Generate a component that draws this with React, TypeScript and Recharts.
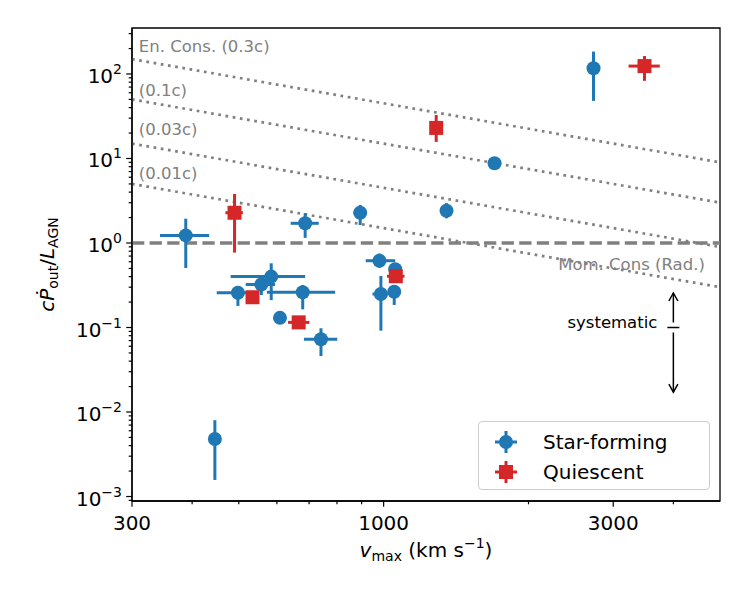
import React from 'react';
import {
  ScatterChart,
  Scatter,
  XAxis,
  YAxis,
  ErrorBar,
  ReferenceLine,
  ReferenceArea,
  ReferenceDot,
  Legend,
} from 'recharts';

const FONT = 'DejaVu Sans';
const BLUE = '#1f77b4';
const RED = '#d62728';
const GREY = '#808080';
const C_KMS = 3e5;

const X_MIN = 300;
const X_MAX = 5000;
const Y_MIN = 8.85e-4;
const Y_MAX = 350;

// star-forming hosts: v_max (km/s), c*Pdot/L_AGN and error-bar ends
const sfV = [388, 446, 498, 557, 584, 609, 679, 687, 741, 894, 980, 987, 1052, 1057, 1351, 1700, 2730];
const sfR = [1.23, 0.0048, 0.258, 0.323, 0.4, 0.13, 0.261, 1.71, 0.0725, 2.28, 0.617, 0.249, 0.265, 0.489, 2.41, 8.77, 117];
const sfVLo = [343, 446, 450, 517, 481, 609, 572, 641, 683, 866, 918, 948, 1052, 1057, 1312, 1650, 2730];
const sfVHi = [434, 446, 538, 595, 687, 609, 793, 733, 801, 923, 1057, 1020, 1052, 1057, 1391, 1750, 2730];
const sfRLo = [0.506, 0.00157, 0.18, 0.242, 0.211, 0.13, 0.164, 1.15, 0.046, 1.63, 0.51, 0.0917, 0.185, 0.45, 1.96, 8.3, 48];
const sfRHi = [1.94, 0.008, 0.31, 0.4, 0.575, 0.13, 0.318, 2.26, 0.098, 2.82, 0.75, 0.407, 0.3, 0.53, 2.96, 9.3, 184];

// quiescent hosts
const qV = [490, 534, 666, 1060, 1286, 3484];
const qR = [2.28, 0.228, 0.115, 0.404, 23, 124];
const qVLo = [469, 534, 633, 1016, 1250, 3228];
const qVHi = [510, 534, 701, 1105, 1320, 3748];
const qRLo = [0.77, 0.228, 0.108, 0.37, 15.7, 83];
const qRHi = [3.8, 0.228, 0.122, 0.44, 32.7, 163];

// energy-conserving tracks, c*Pdot/L = f * c / (2 v)
const enFractions = [0.3, 0.1, 0.03, 0.01];
const enLabels = ['En. Cons. (0.3c)', '(0.1c)', '(0.03c)', '(0.01c)'];
const enLabelY = [182, 55, 19, 5.7];
const enLabelX = 310;

// systematic uncertainty bar
const sysV = 4000;
const sysR = 0.1;
const sysUp = 0.256;
const sysDown = 0.0172;

const xTicks = [300, 400, 500, 600, 700, 800, 900, 1000, 2000, 3000, 4000];
const xMajor = [300, 1000, 3000];
const yExponents = [-3, -2, -1, 0, 1, 2];

const yTicks: number[] = [];
for (let e = -4; e <= 2; e++) {
  for (let m = 1; m <= 9; m++) {
    const t = m * Math.pow(10, e);
    if (t >= Y_MIN && t <= Y_MAX) yTicks.push(t);
  }
}

const toRows = (v: number[], r: number[], vLo: number[], vHi: number[], rLo: number[], rHi: number[]) =>
  v.map((x, i) => ({
    v: x,
    r: r[i],
    ex: [x - vLo[i], vHi[i] - x],
    ey: [r[i] - rLo[i], rHi[i] - r[i]],
  }));

const sfRows = toRows(sfV, sfR, sfVLo, sfVHi, sfRLo, sfRHi);
const qRows = toRows(qV, qR, qVLo, qVHi, qRLo, qRHi);

const XTick = ({ x, y, payload }: any) => {
  const major = xMajor.includes(payload.value);
  return (
    <g>
      <line x1={x} x2={x} y1={y} y2={y + (major ? 5.8 : 3.3)} stroke="#000" strokeWidth={1.2} />
      {major && (
        <text x={x} y={y + 29} textAnchor="middle" fontSize={20} fontFamily={FONT} fill="#000">
          {payload.value}
        </text>
      )}
    </g>
  );
};

const YTick = ({ x, y, payload }: any) => {
  const lg = Math.log10(payload.value);
  const exp = yExponents.find((e) => Math.abs(e - lg) < 1e-6);
  const major = exp !== undefined;
  return (
    <g>
      <line x1={x} x2={x - (major ? 5.8 : 3.3)} y1={y} y2={y} stroke="#000" strokeWidth={1.2} />
      {major && (
        <text x={x - 10} y={y + 9} textAnchor="end" fontSize={20} fontFamily={FONT} fill="#000">
          10
          <tspan fontSize={14} dy={-9}>
            {exp < 0 ? `\u2212${-exp}` : `${exp}`}
          </tspan>
        </text>
      )}
    </g>
  );
};

const XTitle = ({ viewBox }: any) => {
  const cx = viewBox.x + viewBox.width / 2;
  return (
    <text x={cx} y={557} textAnchor="middle" fontSize={20} fontFamily={FONT} fill="#000">
      <tspan fontStyle="italic">v</tspan>
      <tspan fontSize={14} dy={4}>max</tspan>
      <tspan dy={-4}> (km s</tspan>
      <tspan fontSize={14} dy={-9}>{'\u22121'}</tspan>
      <tspan dy={9}>)</tspan>
    </text>
  );
};

const YTitle = ({ viewBox }: any) => {
  const cy = viewBox.y + viewBox.height / 2;
  return (
    <text
      x={54}
      y={cy}
      transform={`rotate(-90, 54, ${cy})`}
      textAnchor="middle"
      fontSize={20}
      fontFamily={FONT}
      fill="#000"
    >
      <tspan fontStyle="italic">c{'\u1E56'}</tspan>
      <tspan fontSize={14} dy={4}>out</tspan>
      <tspan dy={-4}>/</tspan>
      <tspan fontStyle="italic">L</tspan>
      <tspan fontSize={14} dy={4}>AGN</tspan>
    </text>
  );
};

const Circle = ({ cx, cy }: any) => <circle cx={cx} cy={cy} r={7} fill={BLUE} />;
const Square = ({ cx, cy }: any) => <rect x={cx - 7} y={cy - 7} width={14} height={14} fill={RED} />;

const note = (text: string, anchor: 'start' | 'end', color: string) => ({ viewBox }: any) => (
  <text x={viewBox.x} y={viewBox.y} textAnchor={anchor} fontSize={16.5} fontFamily={FONT} fill={color}>
    {text}
  </text>
);

const SysCenter = ({ viewBox }: any) => {
  const { x, y } = viewBox;
  return (
    <g>
      <line x1={x - 6} x2={x + 6} y1={y} y2={y} stroke="#000" strokeWidth={1.5} />
      <text x={x - 16} y={y} textAnchor="end" fontSize={16.5} fontFamily={FONT} fill="#000">
        systematic
      </text>
    </g>
  );
};

const arrowShape = (props: any) => {
  const { x1, y1, x2, y2 } = props;
  const dir = Math.sign(y2 - y1);
  const start = y1 + dir * 5;
  return (
    <g>
      <line x1={x1} y1={start} x2={x2} y2={y2} stroke="#000" strokeWidth={1.5} />
      <path
        d={`M${x2 - 4.5},${y2 - dir * 8} L${x2},${y2} L${x2 + 4.5},${y2 - dir * 8}`}
        fill="none"
        stroke="#000"
        strokeWidth={1.5}
      />
    </g>
  );
};

const legendItems = [
  { name: 'Star-forming', color: BLUE, square: false },
  { name: 'Quiescent', color: RED, square: true },
];

const renderLegend = () => (
  <div
    style={{
      width: 232,
      height: 69,
      boxSizing: 'border-box',
      border: '1px solid #cccccc',
      borderRadius: 4,
      background: 'rgba(255,255,255,0.8)',
    }}
  >
    <svg width={230} height={67}>
      {legendItems.map((item, i) => {
        const cy = 20 + i * 30;
        const cx = 27;
        return (
          <g key={item.name}>
            <line x1={cx - 11} x2={cx + 11} y1={cy} y2={cy} stroke={item.color} strokeWidth={3} />
            <line x1={cx} x2={cx} y1={cy - 11} y2={cy + 11} stroke={item.color} strokeWidth={3} />
            {item.square ? (
              <rect x={cx - 7} y={cy - 7} width={14} height={14} fill={item.color} />
            ) : (
              <circle cx={cx} cy={cy} r={7} fill={item.color} />
            )}
            <text x={64} y={cy + 7} fontSize={20} fontFamily={FONT} fill="#000">
              {item.name}
            </text>
          </g>
        );
      })}
    </svg>
  </div>
);

export default function App() {
  return (
    <div style={{ position: 'absolute', left: 0, top: 0, width: 750, height: 600, background: '#fff', fontFamily: FONT }}>
      <ScatterChart width={750} height={600} margin={{ top: 28, right: 30, left: 72, bottom: 69 }}>
        <XAxis
          dataKey="v"
          type="number"
          scale="log"
          domain={[X_MIN, X_MAX]}
          allowDataOverflow
          ticks={xTicks}
          interval={0}
          tick={<XTick />}
          tickSize={0}
          tickMargin={0}
          tickLine={false}
          axisLine={{ stroke: '#000', strokeWidth: 1.3 }}
          height={30}
          label={<XTitle />}
        />
        <YAxis
          dataKey="r"
          type="number"
          scale="log"
          domain={[Y_MIN, Y_MAX]}
          allowDataOverflow
          ticks={yTicks}
          interval={0}
          tick={<YTick />}
          tickSize={0}
          tickMargin={0}
          tickLine={false}
          axisLine={{ stroke: '#000', strokeWidth: 1.3 }}
          width={60}
          label={<YTitle />}
        />

        {enFractions.map((f) => (
          <ReferenceLine
            key={f}
            segment={[
              { x: X_MIN, y: (f * C_KMS) / (2 * X_MIN) },
              { x: X_MAX, y: (f * C_KMS) / (2 * X_MAX) },
            ]}
            stroke={GREY}
            strokeWidth={2.7}
            strokeDasharray="2.7 4.6"
            ifOverflow="hidden"
          />
        ))}
        <ReferenceLine y={1} stroke={GREY} strokeWidth={3.3} strokeDasharray="12.3 5.3" />

        {enLabels.map((t, i) => (
          <ReferenceDot key={t} x={enLabelX} y={enLabelY[i]} r={0} fill="none" stroke="none" label={note(t, 'start', GREY)} />
        ))}
        <ReferenceDot x={4650} y={0.479} r={0} fill="none" stroke="none" label={note('Mom. Cons (Rad.)', 'end', GREY)} />

        <ReferenceLine segment={[{ x: sysV, y: sysR }, { x: sysV, y: sysUp }]} shape={arrowShape} />
        <ReferenceLine segment={[{ x: sysV, y: sysR }, { x: sysV, y: sysDown }]} shape={arrowShape} />
        <ReferenceDot x={sysV} y={sysR} r={0} fill="none" stroke="none" label={SysCenter} />

        <Scatter name="Star-forming" data={sfRows} fill={BLUE} shape={Circle} isAnimationActive={false}>
          <ErrorBar dataKey="ex" direction="x" width={0} stroke={BLUE} strokeWidth={3} />
          <ErrorBar dataKey="ey" direction="y" width={0} stroke={BLUE} strokeWidth={3} />
        </Scatter>
        <Scatter name="Quiescent" data={qRows} fill={RED} shape={Square} isAnimationActive={false}>
          <ErrorBar dataKey="ex" direction="x" width={0} stroke={RED} strokeWidth={3} />
          <ErrorBar dataKey="ey" direction="y" width={0} stroke={RED} strokeWidth={3} />
        </Scatter>

        <ReferenceArea x1={X_MIN} x2={X_MAX} y1={Y_MIN} y2={Y_MAX} fill="none" fillOpacity={0} stroke="#000" strokeWidth={1.3} />

        <Legend
          layout="horizontal"
          verticalAlign="middle"
          align="center"
          content={renderLegend}
          wrapperStyle={{ left: 478, top: 421, width: 232 }}
        />
      </ScatterChart>
    </div>
  );
}
